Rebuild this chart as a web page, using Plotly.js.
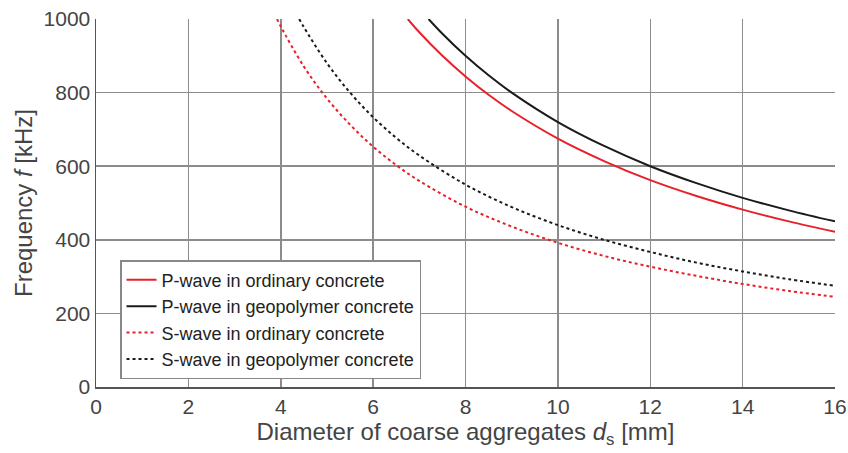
<!DOCTYPE html>
<html>
<head>
<meta charset="utf-8">
<script src="https://cdn.plot.ly/plotly-3.0.1.min.js"></script>
<style>html,body{margin:0;padding:0;background:#fff;}#chart{width:848px;height:453px;}</style>
</head>
<body>
<div id="chart"></div>
<script>
// Diameter of coarse aggregates d_s [mm] and frequency f [kHz]
const pOrdX = [6.75, 7, 7.5, 8, 8.5, 9, 10, 11, 12, 13, 14, 15, 16];
const pOrdY = [1000, 964, 900, 844, 794, 750, 675, 614, 562, 519, 482, 450, 422];
const pGeoX = [7.2, 7.5, 8, 8.5, 9, 10, 11, 12, 13, 14, 15, 16];
const pGeoY = [1000, 960, 900, 847, 800, 720, 655, 600, 554, 514, 480, 450];
const sOrdX = [3.92, 4, 4.5, 5, 5.5, 6, 6.5, 7, 8, 9, 10, 11, 12, 13, 14, 15, 16];
const sOrdY = [1000, 980, 871, 784, 713, 653, 603, 560, 490, 436, 392, 356, 327, 302, 280, 261, 245];
const sGeoX = [4.4, 4.5, 5, 5.5, 6, 6.5, 7, 8, 9, 10, 11, 12, 13, 14, 15, 16];
const sGeoY = [1000, 978, 880, 800, 733, 677, 629, 550, 489, 440, 400, 367, 338, 314, 293, 275];
const names = ["P-wave in ordinary concrete", "P-wave in geopolymer concrete",
               "S-wave in ordinary concrete", "S-wave in geopolymer concrete"];
const xTicks = [0, 2, 4, 6, 8, 10, 12, 14, 16];
const yTicks = [0, 200, 400, 600, 800, 1000];

const red = "#e8202a", black = "#1a1a1a";
const traces = [
  {x: pOrdX, y: pOrdY, name: names[0], mode: "lines", line: {color: red, width: 2, shape: "spline"}},
  {x: pGeoX, y: pGeoY, name: names[1], mode: "lines", line: {color: black, width: 2, shape: "spline"}},
  {x: sOrdX, y: sOrdY, name: names[2], mode: "lines", line: {color: red, width: 2, dash: "dot", shape: "spline"}},
  {x: sGeoX, y: sGeoY, name: names[3], mode: "lines", line: {color: black, width: 2, dash: "dot", shape: "spline"}}
];
const font = "Liberation Sans, Arial, Helvetica, sans-serif";
const layout = {
  width: 848, height: 453,
  margin: {l: 96, r: 13, t: 19, b: 66},
  paper_bgcolor: "#fff", plot_bgcolor: "#fff",
  font: {family: font, color: "#444", size: 20},
  showlegend: true,
  legend: {x: 0.0325, y: 0.345, xanchor: "left", yanchor: "top",
           bgcolor: "#fff", bordercolor: "#888", borderwidth: 1.5,
           itemwidth: 30, tracegroupgap: 0,
           font: {family: font, size: 18, color: "#222"}},
  xaxis: {range: [0, 16], tickvals: xTicks, ticktext: xTicks.map(String),
          showgrid: true, gridcolor: "#8c8c8c", gridwidth: 1.5,
          showline: true, linecolor: "#555", linewidth: 1.5, zeroline: false,
          ticks: "", tickfont: {size: 21, color: "#444"},
          title: {text: "Diameter of coarse aggregates <i>d</i><sub>s</sub> [mm]", font: {size: 24, color: "#444"}, standoff: 6}},
  yaxis: {range: [0, 1000], tickvals: yTicks, ticktext: yTicks.map(String),
          showgrid: true, gridcolor: "#8c8c8c", gridwidth: 1.5,
          showline: true, linecolor: "#555", linewidth: 1.5, zeroline: false,
          ticks: "", tickfont: {size: 21, color: "#444"},
          title: {text: "Frequency <i>f</i> [kHz]", font: {size: 24, color: "#444"}, standoff: 4}}
};
Plotly.newPlot("chart", traces, layout, {displayModeBar: false, staticPlot: true});
</script>
</body>
</html>
